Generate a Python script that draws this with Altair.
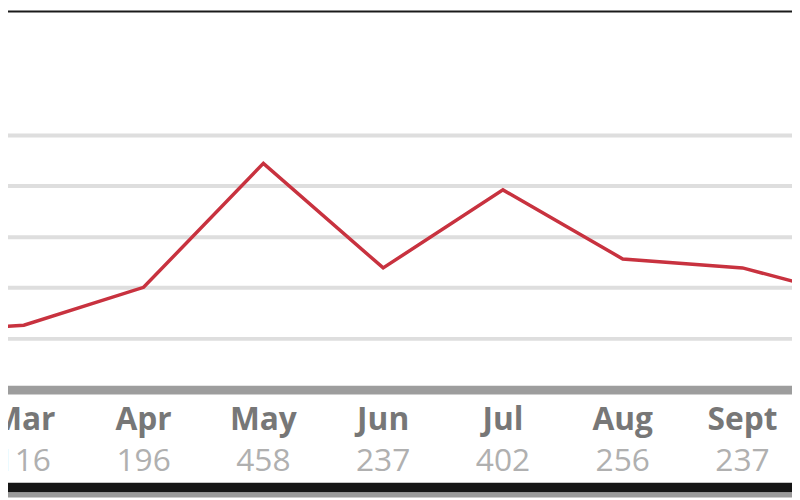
import altair as alt
import pandas as pd

# Series (Feb and Oct lie outside the visible frame; their values are estimates from the slope of the cut-off line)
months = ["Feb", "Mar", "Apr", "May", "Jun", "Jul", "Aug", "Sept", "Oct"]
values = [100, 116, 196, 458, 237, 402, 256, 237, 170]
visible = [False, True, True, True, True, True, True, True, False]
grid_levels = [87, 195, 302, 410, 517]

W, H = 792, 492

df = pd.DataFrame({"month": months, "value": values, "idx": list(range(len(months))), "visible": visible})
lab = df[df["visible"]]
grid = pd.DataFrame({"level": grid_levels})
one = pd.DataFrame({"k": [0]})

xs = alt.Scale(domain=[0.868, 7.413], zero=False, nice=False)
ys = alt.Scale(domain=[-248.4, 781.3], zero=False, nice=False)

gridlines = alt.Chart(grid).mark_rule(color="#dedede", strokeWidth=4).encode(
    y=alt.Y("level:Q", scale=ys, axis=None)
)

line = alt.Chart(df).mark_line(color="#c8323f", strokeWidth=3.5, clip=True).encode(
    x=alt.X("idx:Q", scale=xs, axis=None),
    y=alt.Y("value:Q", scale=ys, axis=None),
)

axis_band = alt.Chart(one).mark_rect(color="#9d9d9d").encode(
    x=alt.value(0), x2=alt.value(W), y=alt.value(379), y2=alt.value(388)
)

month_text = alt.Chart(lab).mark_text(
    font="Open Sans", fontSize=32, fontWeight="bold", color="#777777", baseline="alphabetic", align="center"
).encode(
    x=alt.X("idx:Q", scale=xs, axis=None),
    y=alt.value(424),
    text="month:N",
)

value_text = alt.Chart(lab).mark_text(
    font="Open Sans", fontSize=32, color="#b0b0b0", baseline="alphabetic", align="center"
).encode(
    x=alt.X("idx:Q", scale=xs, axis=None),
    y=alt.value(465),
    text="value:Q",
)

top_bar = alt.Chart(one).mark_rect(color="#1a1a1a").encode(
    x=alt.value(0), x2=alt.value(W), y=alt.value(0), y2=alt.value(2)
)
bottom_bar = alt.Chart(one).mark_rect(color="#151515").encode(
    x=alt.value(0), x2=alt.value(W), y=alt.value(477), y2=alt.value(487)
)
bottom_gray = alt.Chart(one).mark_rect(color="#9a9a9a").encode(
    x=alt.value(0), x2=alt.value(W), y=alt.value(487), y2=alt.value(H)
)

chart = alt.layer(
    gridlines, line, axis_band, month_text, value_text, top_bar, bottom_bar, bottom_gray
).properties(
    width=W, height=H, padding=0, autosize=alt.AutoSizeParams(type="none"), background="white"
).configure_view(stroke=None)

chart.save("out.html", embed_options={"renderer": "svg", "actions": False})
